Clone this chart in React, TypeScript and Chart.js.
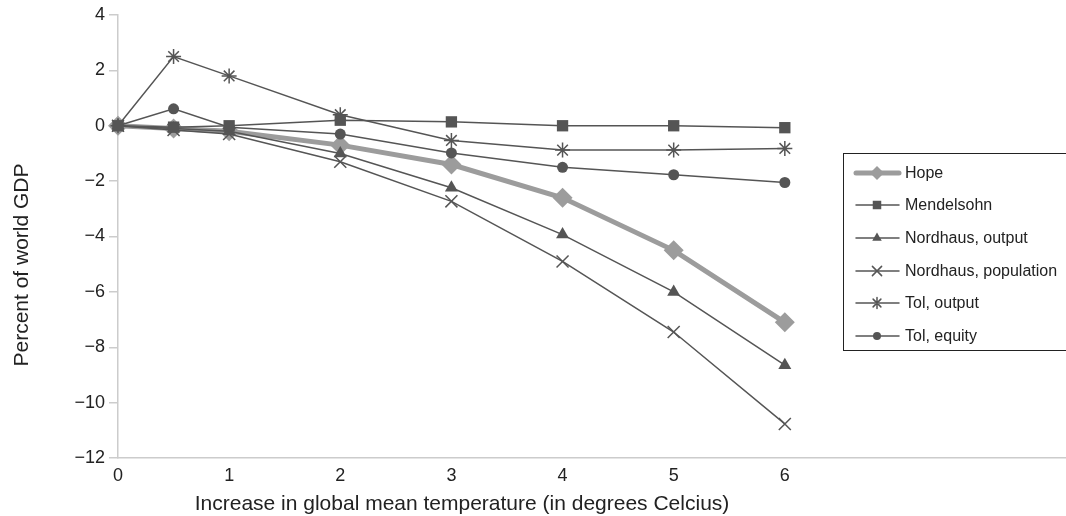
import React, { useEffect, useRef } from "react";
import { Chart, registerables } from "chart.js";

Chart.register(...registerables);

const temps = [0, 0.5, 1, 2, 3, 4, 5, 6];
const hope = [0, -0.1, -0.2, -0.7, -1.4, -2.6, -4.5, -7.1];
const mendelsohn = [0, -0.05, 0, 0.2, 0.14, 0, 0, -0.07];
const nordhausOutput = [0, -0.1, -0.2, -1.0, -2.24, -3.93, -6.0, -8.65];
const nordhausPopulation = [0, -0.15, -0.3, -1.3, -2.73, -4.9, -7.45, -10.77];
const tolOutput = [0, 2.5, 1.8, 0.4, -0.53, -0.88, -0.88, -0.82];
const tolEquity = [0, 0.61, -0.05, -0.3, -0.98, -1.5, -1.77, -2.05];
const yTicks = [4, 2, 0, -2, -4, -6, -8, -10, -12];
const xTickLabels = [0, 1, 2, 3, 4, 5, 6];

const FONT = "'Liberation Sans', Arial, Helvetica, sans-serif";
const DARK = "#555555";
const LIGHT = "#9c9c9c";
const AXIS = "#cccccc";

const pts = (ys: number[]) => temps.map((x, i) => ({ x, y: ys[i] }));
const fmt = (v: number) => (v < 0 ? "\u2212" + Math.abs(v) : String(v));

function drawPointShape(ctx: CanvasRenderingContext2D, style: string, r: number, x: number, y: number) {
  ctx.beginPath();
  if (style === "rectRot") {
    ctx.moveTo(x, y - r);
    ctx.lineTo(x + r, y);
    ctx.lineTo(x, y + r);
    ctx.lineTo(x - r, y);
    ctx.closePath();
    ctx.fill();
  } else if (style === "rect") {
    const s = r * Math.SQRT1_2;
    ctx.fillRect(x - s, y - s, 2 * s, 2 * s);
  } else if (style === "triangle") {
    ctx.moveTo(x, y - r);
    ctx.lineTo(x + r * 0.866, y + r * 0.5);
    ctx.lineTo(x - r * 0.866, y + r * 0.5);
    ctx.closePath();
    ctx.fill();
  } else if (style === "circle") {
    ctx.arc(x, y, r, 0, Math.PI * 2);
    ctx.fill();
  } else if (style === "crossRot") {
    const d = r * Math.SQRT1_2;
    ctx.moveTo(x - d, y - d);
    ctx.lineTo(x + d, y + d);
    ctx.moveTo(x - d, y + d);
    ctx.lineTo(x + d, y - d);
    ctx.stroke();
  } else if (style === "star") {
    const d = r * Math.SQRT1_2;
    ctx.moveTo(x, y - r);
    ctx.lineTo(x, y + r);
    ctx.moveTo(x - d, y - d);
    ctx.lineTo(x + d, y + d);
    ctx.moveTo(x - d, y + d);
    ctx.lineTo(x + d, y - d);
    ctx.stroke();
  }
}

const legendPlugin = {
  id: "boxLegend",
  afterDraw(chart: any) {
    const ctx = chart.ctx;
    ctx.save();
    const left = 843, top = 153, bottom = 350, right = 1075;
    ctx.fillStyle = "#ffffff";
    ctx.fillRect(left, top, right - left, bottom - top);
    ctx.strokeStyle = "#222";
    ctx.lineWidth = 1;
    ctx.strokeRect(left + 0.5, top + 0.5, right - left, bottom - top);
    const rowY = [173, 205, 238, 271, 303, 336];
    chart.data.datasets.forEach((ds: any, i: number) => {
      const y = rowY[i];
      ctx.strokeStyle = ds.borderColor;
      ctx.lineWidth = ds.borderWidth;
      ctx.lineCap = "round";
      ctx.beginPath();
      ctx.moveTo(856, y);
      ctx.lineTo(899, y);
      ctx.stroke();
      ctx.fillStyle = ds.pointBackgroundColor;
      ctx.strokeStyle = ds.pointBorderColor;
      ctx.lineWidth = ds.pointBorderWidth;
      const r = ds.pointStyle === "rectRot" ? 7 : Math.max(4, ds.pointRadius - 2);
      drawPointShape(ctx, ds.pointStyle, r, 877, y);
      ctx.fillStyle = "#222";
      ctx.font = `16px ${FONT}`;
      ctx.textBaseline = "middle";
      ctx.textAlign = "left";
      ctx.fillText(ds.label, 905, y + 1);
    });
    ctx.restore();
  },
};

const titlePlugin = {
  id: "axisTitles",
  afterDraw(chart: any) {
    const ctx = chart.ctx;
    ctx.save();
    ctx.fillStyle = "#222";
    ctx.font = `21px ${FONT}`;
    ctx.textAlign = "center";
    ctx.textBaseline = "alphabetic";
    ctx.fillText("Increase in global mean temperature (in degrees Celcius)", 462, 510);
    ctx.translate(28, 265);
    ctx.rotate(-Math.PI / 2);
    ctx.fillText("Percent of world GDP", 0, 0);
    ctx.restore();
  },
};

export default function App() {
  const ref = useRef<HTMLCanvasElement>(null);
  useEffect(() => {
    document.body.style.margin = "0";
    const mk = (label: string, data: number[], style: string, radius: number, light = false, order = 1) => ({
      label,
      data: pts(data),
      borderColor: light ? LIGHT : DARK,
      backgroundColor: light ? LIGHT : DARK,
      borderWidth: light ? 5 : 1.5,
      pointStyle: style,
      pointRadius: radius,
      pointHoverRadius: radius,
      pointBackgroundColor: light ? LIGHT : DARK,
      pointBorderColor: light ? LIGHT : DARK,
      pointBorderWidth: style === "crossRot" || style === "star" ? 1.5 : 0,
      tension: 0,
      clip: false,
      order,
    });
    const chart = new Chart(ref.current!, {
      type: "line",
      data: {
        datasets: [
          mk("Hope", hope, "rectRot", 10, true, 10),
          mk("Mendelsohn", mendelsohn, "rect", 8),
          mk("Nordhaus, output", nordhausOutput, "triangle", 7.5),
          mk("Nordhaus, population", nordhausPopulation, "crossRot", 8.5),
          mk("Tol, output", tolOutput, "star", 7.5),
          mk("Tol, equity", tolEquity, "circle", 5.5),
        ] as any,
      },
      options: {
        animation: false,
        responsive: false,
        maintainAspectRatio: false,
        layout: { autoPadding: false, padding: { top: 15, right: 0, left: 0, bottom: 0 } },
        plugins: { legend: { display: false }, tooltip: { enabled: false } },
        scales: {
          x: {
            type: "linear",
            min: 0,
            max: 8.53,
            afterFit: (s: any) => {
              s.height = 58;
            },
            afterBuildTicks: (s: any) => {
              s.ticks = xTickLabels.map((v) => ({ value: v }));
            },
            ticks: {
              color: "#222",
              font: { size: 18, family: FONT },
              padding: 7,
              maxRotation: 0,
              autoSkip: false,
              callback: (v: any) => String(v),
            },
            grid: { drawOnChartArea: false, drawTicks: false, color: AXIS },
            border: { display: true, color: AXIS, width: 1.5 },
          },
          y: {
            min: -12,
            max: 4,
            afterFit: (s: any) => { s.width = 118; },
            afterBuildTicks: (s: any) => {
              s.ticks = yTicks.map((v) => ({ value: v }));
            },
            ticks: {
              color: "#222",
              font: { size: 18, family: FONT },
              padding: 4,
              autoSkip: false,
              callback: (v: any) => fmt(Number(v)),
            },
            grid: { drawOnChartArea: false, drawTicks: true, tickLength: 9, color: AXIS, lineWidth: 1.5 },
            border: { display: true, color: AXIS, width: 1.5 },
          },
        },
      },
      plugins: [legendPlugin, titlePlugin],
    });
    return () => chart.destroy();
  }, []);
  return <canvas ref={ref} width={1066} height={516} style={{ display: "block", width: 1066, height: 516 }} />;
}
